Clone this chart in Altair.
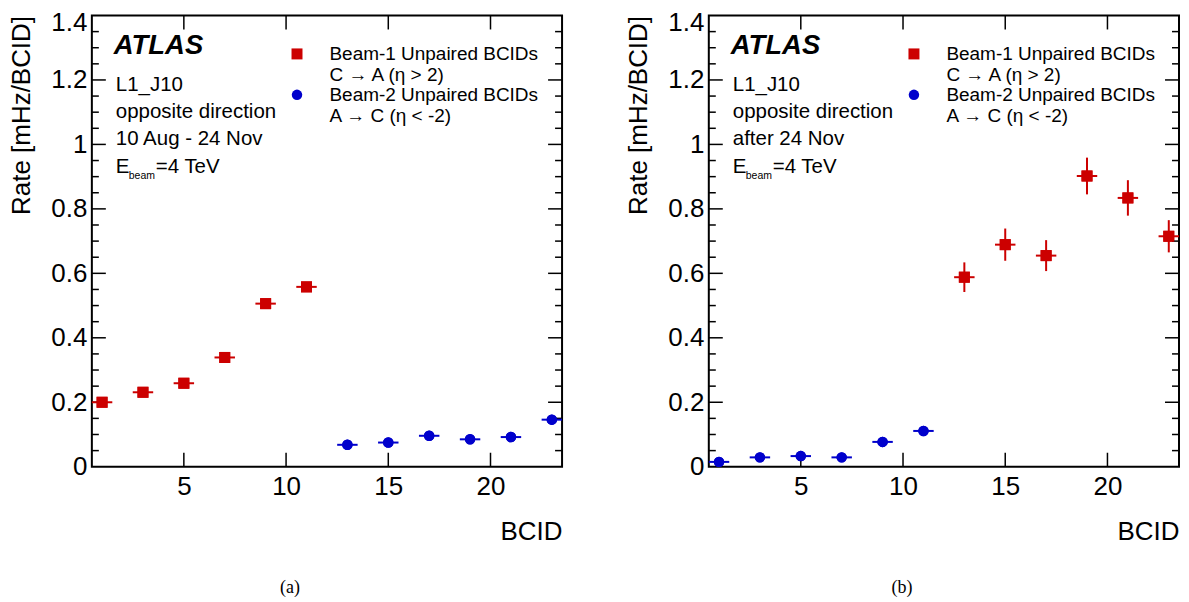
import altair as alt
import pandas as pd

FONT = "Liberation Sans"
RED = "#CC0000"
BLUE = "#0000CC"
SERIES = ["Beam-1", "Beam-2"]

# ---- panel (a): 10 Aug - 24 Nov ----
a_b1_bcid = [1, 3, 5, 7, 9, 11]
a_b1_rate = [0.200, 0.231, 0.259, 0.339, 0.506, 0.558]
a_b1_err = [0.005, 0.005, 0.006, 0.007, 0.008, 0.008]
a_b2_bcid = [13, 15, 17, 19, 21, 23]
a_b2_rate = [0.068, 0.075, 0.096, 0.085, 0.092, 0.146]
a_b2_err = [0.004, 0.004, 0.005, 0.005, 0.005, 0.006]

# ---- panel (b): after 24 Nov ----
b_b2_bcid = [1, 3, 5, 7, 9, 11]
b_b2_rate = [0.015, 0.029, 0.033, 0.029, 0.077, 0.111]
b_b2_err = [0.004, 0.005, 0.005, 0.005, 0.008, 0.012]
b_b1_bcid = [13, 15, 17, 19, 21, 23]
b_b1_rate = [0.588, 0.689, 0.655, 0.902, 0.834, 0.715]
b_b1_err = [0.046, 0.050, 0.048, 0.057, 0.055, 0.050]

x_major = [5, 10, 15, 20]
y_labels = [0, 0.2, 0.4, 0.6, 0.8, 1.0, 1.2, 1.4]
y_major = [0.2, 0.4, 0.6, 0.8, 1.0, 1.2]
y_minor = [0.05, 0.1, 0.15, 0.25, 0.3, 0.35, 0.45, 0.5, 0.55, 0.65, 0.7,
           0.75, 0.85, 0.9, 0.95, 1.05, 1.1, 1.15, 1.25, 1.3, 1.35]

W, H = 471, 452
TS = 26     # tick label / axis title size
AS = 20.5   # annotation size
LS = 19     # legend size

xs = alt.Scale(domain=[0.5, 23.5], nice=False, zero=False)
ys = alt.Scale(domain=[0, 1.4], nice=False, zero=False)

X_AXIS = alt.Axis(
    values=x_major, format="d", title="BCID", grid=False, domain=False,
    ticks=False, tickSize=0, labelPadding=7, labelFont=FONT,
    labelFontSize=TS, labelColor="black", labelFlush=False,
    titleFont=FONT, titleFontSize=TS, titleFontWeight="normal",
    titleColor="black", titleX=W, titleY=73, titleAlign="right",
    titleBaseline="alphabetic")
Y_AXIS = alt.Axis(
    values=y_labels, format="~g", title="Rate [mHz/BCID]", grid=False,
    domain=False, ticks=False, tickSize=0, labelPadding=5,
    labelFont=FONT, labelFontSize=TS, labelColor="black",
    labelFlush=False, labelOverlap=False,
    labelOffset={"condition": {"test": "datum.value == 1.4", "value": 7}, "value": 0},
    titleFont=FONT, titleFontSize=TS, titleFontWeight="normal",
    titleColor="black", titleX=-62, titleY=0, titleAlign="right",
    titleAngle=270, titleBaseline="alphabetic")


def X(field):
    return alt.X(field, scale=xs, axis=X_AXIS)


def Y(field):
    return alt.Y(field, scale=ys, axis=Y_AXIS)


def make_df(b1x, b1y, b1e, b2x, b2y, b2e):
    return pd.DataFrame({
        "bcid": b1x + b2x,
        "rate": b1y + b2y,
        "err": b1e + b2e,
        "series": ["Beam-1"] * len(b1x) + ["Beam-2"] * len(b2x),
    })


def text_layer(s, x, y, size=AS, weight="normal", style="normal"):
    return alt.Chart(pd.DataFrame({"t": [s]})).mark_text(
        align="left", baseline="alphabetic", font=FONT, fontSize=size,
        fontWeight=weight, fontStyle=style, color="black"
    ).encode(x=alt.value(x), y=alt.value(y), text="t:N")


def panel(df, period, caption, cap_dx):
    base = alt.Chart(df).transform_calculate(
        lo="datum.rate - datum.err", hi="datum.rate + datum.err",
        xlo="datum.bcid - 0.5", xhi="datum.bcid + 0.5")
    cscale = alt.Scale(domain=SERIES, range=[RED, BLUE])
    legend = alt.Legend(
        orient="none", legendX=196, legendY=29, title=None,
        labelExpr=("datum.value == 'Beam-1' ? ['Beam-1 Unpaired BCIDs', 'C \u2192 A (\u03b7 > 2)']"
                   " : ['Beam-2 Unpaired BCIDs', 'A \u2192 C (\u03b7 < -2)']"),
        labelFont=FONT, labelFontSize=LS, labelColor="black", labelBaseline="middle",
        labelOffset=23, labelLimit=500, symbolSize=121, symbolStrokeWidth=0,
        rowPadding=0, padding=0)

    err_layers = []
    for s, col in zip(SERIES, [RED, BLUE]):
        sub = base.transform_filter(alt.datum.series == s)
        err_layers.append(sub.mark_rule(strokeWidth=2, color=col).encode(
            x=X("xlo:Q"), x2="xhi:Q", y=Y("rate:Q")))
        err_layers.append(sub.mark_rule(strokeWidth=2, color=col).encode(
            x=X("bcid:Q"), y=Y("lo:Q"), y2="hi:Q"))

    pts = base.mark_point(filled=True, opacity=1, strokeWidth=0).encode(
        x=X("bcid:Q"),
        y=Y("rate:Q"),
        color=alt.Color("series:N", scale=cscale, legend=legend),
        shape=alt.Shape("series:N", scale=alt.Scale(domain=SERIES, range=["square", "circle"]),
                        legend=legend),
        size=alt.Size("series:N", scale=alt.Scale(domain=SERIES, range=[121, 110]), legend=None),
    )

    xt = pd.DataFrame({"v": x_major})
    ymj = pd.DataFrame({"v": y_major})
    ymn = pd.DataFrame({"v": y_minor})
    tk = dict(color="black", strokeWidth=1.5)
    ticks = [
        alt.Chart(xt).mark_rule(**tk).encode(x=X("v:Q"), y=alt.value(H), y2=alt.value(H - 14)),
        alt.Chart(xt).mark_rule(**tk).encode(x=X("v:Q"), y=alt.value(0), y2=alt.value(14)),
        alt.Chart(ymj).mark_rule(**tk).encode(y=Y("v:Q"), x=alt.value(0), x2=alt.value(14)),
        alt.Chart(ymj).mark_rule(**tk).encode(y=Y("v:Q"), x=alt.value(W), x2=alt.value(W - 14)),
        alt.Chart(ymn).mark_rule(**tk).encode(y=Y("v:Q"), x=alt.value(0), x2=alt.value(7)),
        alt.Chart(ymn).mark_rule(**tk).encode(y=Y("v:Q"), x=alt.value(W), x2=alt.value(W - 7)),
    ]

    texts = [
        text_layer("ATLAS", 22, 39, size=27.5, weight="bold", style="italic"),
        text_layer("L1_J10", 24, 76),
        text_layer("opposite direction", 24, 103),
        text_layer(period, 24, 130),
        text_layer("E", 24, 158),
        text_layer("beam", 37, 164, size=10.5),
        text_layer("=4 TeV", 64, 158),
    ]

    return alt.layer(pts, *ticks, *err_layers, pts, *texts).properties(
        width=W, height=H,
        title=alt.TitleParams(caption, orient="bottom", font="Liberation Serif",
                              fontSize=18, fontWeight="normal", color="black",
                              dx=cap_dx, offset=34))


df_a = make_df(a_b1_bcid, a_b1_rate, a_b1_err, a_b2_bcid, a_b2_rate, a_b2_err)
df_b = make_df(b_b1_bcid, b_b1_rate, b_b1_err, b_b2_bcid, b_b2_rate, b_b2_err)

pa = panel(df_a, "10 Aug - 24 Nov", "(a)", -37)
pb = panel(df_b, "after 24 Nov", "(b)", -42)

chart = alt.hconcat(pa, pb, spacing=147, bounds="flush").resolve_scale(
    color="independent", shape="independent", size="independent"
).resolve_legend(
    color="independent", shape="independent", size="independent"
).configure_view(stroke="black", strokeWidth=2).properties(
    padding={"left": 0, "top": 0, "right": 0, "bottom": 0},
    background="white")

chart.save("out.html", embed_options={"renderer": "svg", "actions": False})
